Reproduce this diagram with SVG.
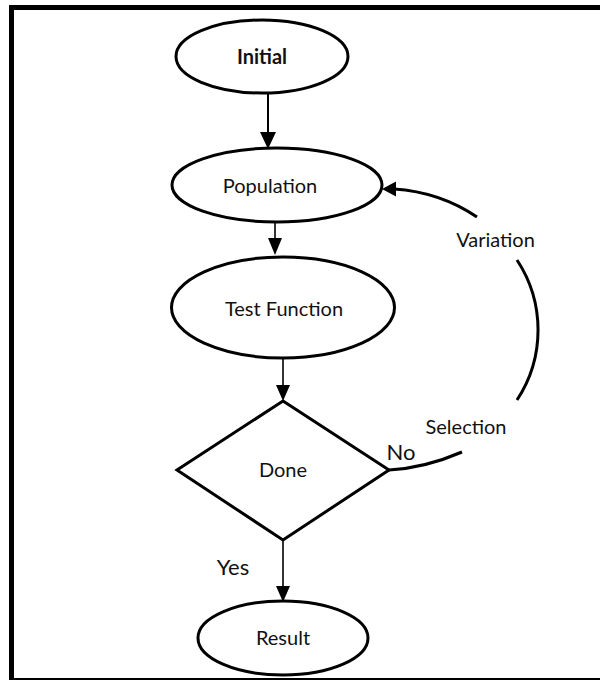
<svg xmlns="http://www.w3.org/2000/svg" width="600" height="680" viewBox="0 0 600 680">
<defs>
<style>
.node{fill:#fff;stroke:#000;stroke-width:3}
.lbl{font-family:Lato,"Open Sans","Liberation Sans",sans-serif;font-size:20px;fill:#111;text-anchor:middle}
.big{font-size:22px}
.edge{fill:none;stroke:#000;stroke-width:1.6}
.curve{fill:none;stroke:#000;stroke-width:3}
.head{fill:#000}
</style>
</defs>
<rect x="0" y="0" width="600" height="680" fill="#fff"/>
<g id="frame">
<line x1="9" y1="7.5" x2="600" y2="7.5" stroke="#000" stroke-width="5"/>
<line x1="11.5" y1="5" x2="11.5" y2="680" stroke="#000" stroke-width="5"/>
<line x1="9" y1="679" x2="600" y2="679" stroke="#000" stroke-width="2"/>
</g>
<g id="connectors">
<line class="edge" x1="268" y1="93" x2="268" y2="133" style="stroke-width:2"/>
<polygon class="head" points="260,132 276,132 268,149"/>
<line class="edge" x1="275" y1="222" x2="275" y2="239"/>
<polygon class="head" points="268,238 282,238 275,255"/>
<line class="edge" x1="283" y1="358" x2="283" y2="386"/>
<polygon class="head" points="276,385 290,385 283,401"/>
<line class="edge" x1="283" y1="540" x2="283" y2="587"/>
<polygon class="head" points="276,586 290,586 283,602"/>
<path class="curve" d="M389,470 Q425,468 462,452"/>
<path class="curve" d="M517,260 A127,127 0 0 1 517,400"/>
<path class="curve" d="M477,217 Q440,192 394,189"/>
<polygon class="head" points="382,189 396,181.5 396,196.5"/>
<text class="lbl" x="495.5" y="247">Variation</text>
<text class="lbl" x="466" y="434">Selection</text>
<text class="lbl big" x="401" y="460">No</text>
<text class="lbl big" x="233" y="575">Yes</text>
</g>
<g id="initial">
<ellipse class="node" cx="262" cy="56.5" rx="86" ry="36.5"/>
<text class="lbl" x="262" y="64" font-weight="bold">Initial</text>
</g>
<g id="population">
<ellipse class="node" cx="277" cy="185" rx="105" ry="37"/>
<text class="lbl" x="270" y="193">Population</text>
</g>
<g id="test-function">
<ellipse class="node" cx="283" cy="307.5" rx="111.5" ry="50.5"/>
<text class="lbl" x="284" y="316">Test Function</text>
</g>
<g id="done">
<polygon class="node" points="283,401 389,470 283,540 177,470"/>
<text class="lbl" x="283" y="477">Done</text>
</g>
<g id="result">
<ellipse class="node" cx="283" cy="638" rx="85" ry="37"/>
<text class="lbl" x="283" y="645">Result</text>
</g>
</svg>
